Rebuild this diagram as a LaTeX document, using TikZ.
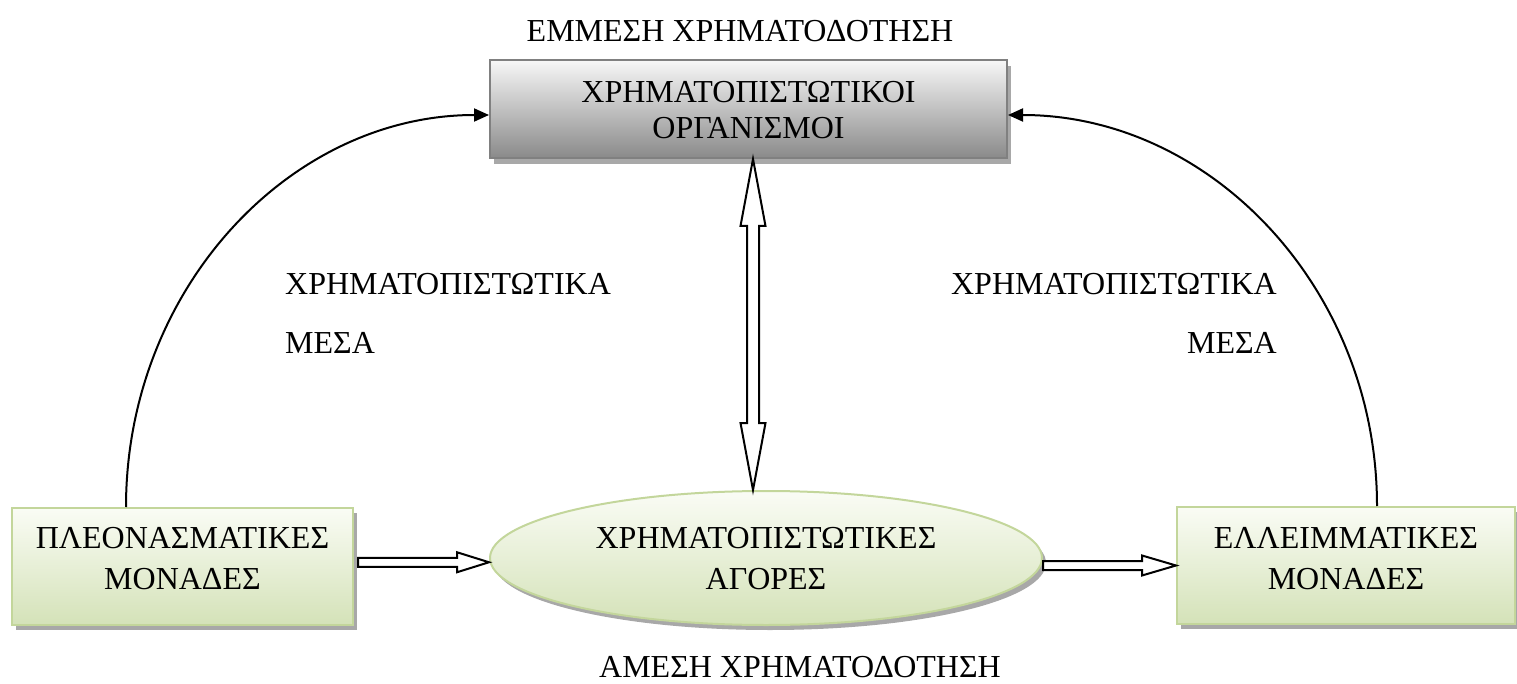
\documentclass[tikz,border=0pt]{standalone}
\usepackage{fontspec}
\setmainfont{Liberation Serif}
\usetikzlibrary{shapes.geometric,arrows.meta,calc,shadows}
\definecolor{greyborder}{HTML}{808080}
\definecolor{greydark}{HTML}{8A8A8A}
\definecolor{greylight}{HTML}{F7F7F7}
\definecolor{greenborder}{HTML}{C3D69B}
\definecolor{greenfill}{HTML}{D4E2B8}
\definecolor{greenlight}{HTML}{FAFCF5}
\definecolor{shadowgrey}{HTML}{A8A8A8}
\begin{document}
\begin{tikzpicture}[x=1pt,y=-1pt,
  every node/.style={font=\fontsize{32}{36}\selectfont, inner sep=0pt},
  greybox/.style={draw=greyborder, line width=2pt, top color=greylight, bottom color=greydark,
    drop shadow={shadow xshift=4pt, shadow yshift=-6pt, fill=shadowgrey, opacity=1}},
  greenbox/.style={draw=greenborder, line width=2pt, top color=greenlight, bottom color=greenfill,
    drop shadow={shadow xshift=4pt, shadow yshift=-5pt, fill=shadowgrey, opacity=1}},
  txt/.style={align=center},
  gtxt/.style={align=center, font=\fontsize{32}{41}\selectfont},
  conn/.style={draw=black, line width=2pt, -{Triangle[length=15pt,width=13pt]}},
  hollow/.style={draw=black, line width=2pt, fill=white, line join=miter}
]
\useasboundingbox (0,0) rectangle (1517,684);

% shapes
\node[greybox, minimum width=517pt, minimum height=98pt] (fin) at (748.5,109) {};
\node[txt] (fint) at (748.5,110) {ΧΡΗΜΑΤΟΠΙΣΤΩΤΙΚΟΙ\\ΟΡΓΑΝΙΣΜΟΙ};

\node[greenbox, minimum width=341pt, minimum height=117pt] (lb) at (182.5,566.5) {};
\node[gtxt] (lbt) at (182.5,559) {ΠΛΕΟΝΑΣΜΑΤΙΚΕΣ\\ΜΟΝΑΔΕΣ};

\node[greenbox, ellipse, minimum width=552pt, minimum height=134pt] (ell) at (766,558) {};
\node[gtxt] (ellt) at (766,559) {ΧΡΗΜΑΤΟΠΙΣΤΩΤΙΚΕΣ\\ΑΓΟΡΕΣ};

\node[greenbox, minimum width=338pt, minimum height=117pt] (rb) at (1346,565.5) {};
\node[gtxt] (rbt) at (1346,559) {ΕΛΛΕΙΜΜΑΤΙΚΕΣ\\ΜΟΝΑΔΕΣ};

% texts
\node[anchor=base] (top) at (740,42) {ΕΜΜΕΣΗ ΧΡΗΜΑΤΟΔΟΤΗΣΗ};
\node[anchor=base] (bot) at (800,677) {ΑΜΕΣΗ ΧΡΗΜΑΤΟΔΟΤΗΣΗ};
\node[anchor=base west] (l1) at (285,295) {ΧΡΗΜΑΤΟΠΙΣΤΩΤΙΚΑ};
\node[anchor=base west] (l2) at (285,353) {ΜΕΣΑ};
\node[anchor=base east] (r1) at (1277,295) {ΧΡΗΜΑΤΟΠΙΣΤΩΤΙΚΑ};
\node[anchor=base east] (r2) at (1277,353) {ΜΕΣΑ};

% curved connectors
\draw[conn] ($(lb.north west)+(115,0)$) .. controls +(0,-217) and +(-200,0) .. ($(fin.west)+(0,6)$);
\draw[conn] ($(rb.north west)+(201,0)$) .. controls +(0,-216) and +(204,0) .. ($(fin.east)+(0,6)$);

% vertical hollow double arrow
\draw[hollow] let \p1=(fin.south), \p2=(ell.north), \p3=($(fin.south)+(4.5,0)$) in
  (\x3,\y1) -- (\x3+12.5pt,\y1-67pt) -- (\x3+6pt,\y1-67pt) -- (\x3+6pt,\y2+67pt)
  -- (\x3+12.5pt,\y2+67pt) -- (\x3,\y2) -- (\x3-12.5pt,\y2+67pt) -- (\x3-6pt,\y2+67pt)
  -- (\x3-6pt,\y1-67pt) -- (\x3-12.5pt,\y1-67pt) -- cycle;

% horizontal hollow arrows
\draw[hollow] let \p1=($(lb.east)+(4,0)$), \p2=(ell.west), \n1={0.5*\y1+0.5*\y2} in
  (\x1,\n1+4.5pt) -- (\x2-32pt,\n1+4.5pt) -- (\x2-32pt,\n1+10pt) -- (\x2,\n1)
  -- (\x2-32pt,\n1-10pt) -- (\x2-32pt,\n1-4.5pt) -- (\x1,\n1-4.5pt) -- cycle;
\draw[hollow] let \p1=(ell.east), \p2=(rb.west), \n1={\y2} in
  (\x1,\n1+4.5pt) -- (\x2-34pt,\n1+4.5pt) -- (\x2-34pt,\n1+10pt) -- (\x2,\n1)
  -- (\x2-34pt,\n1-10pt) -- (\x2-34pt,\n1-4.5pt) -- (\x1,\n1-4.5pt) -- cycle;
\end{tikzpicture}
\end{document}
